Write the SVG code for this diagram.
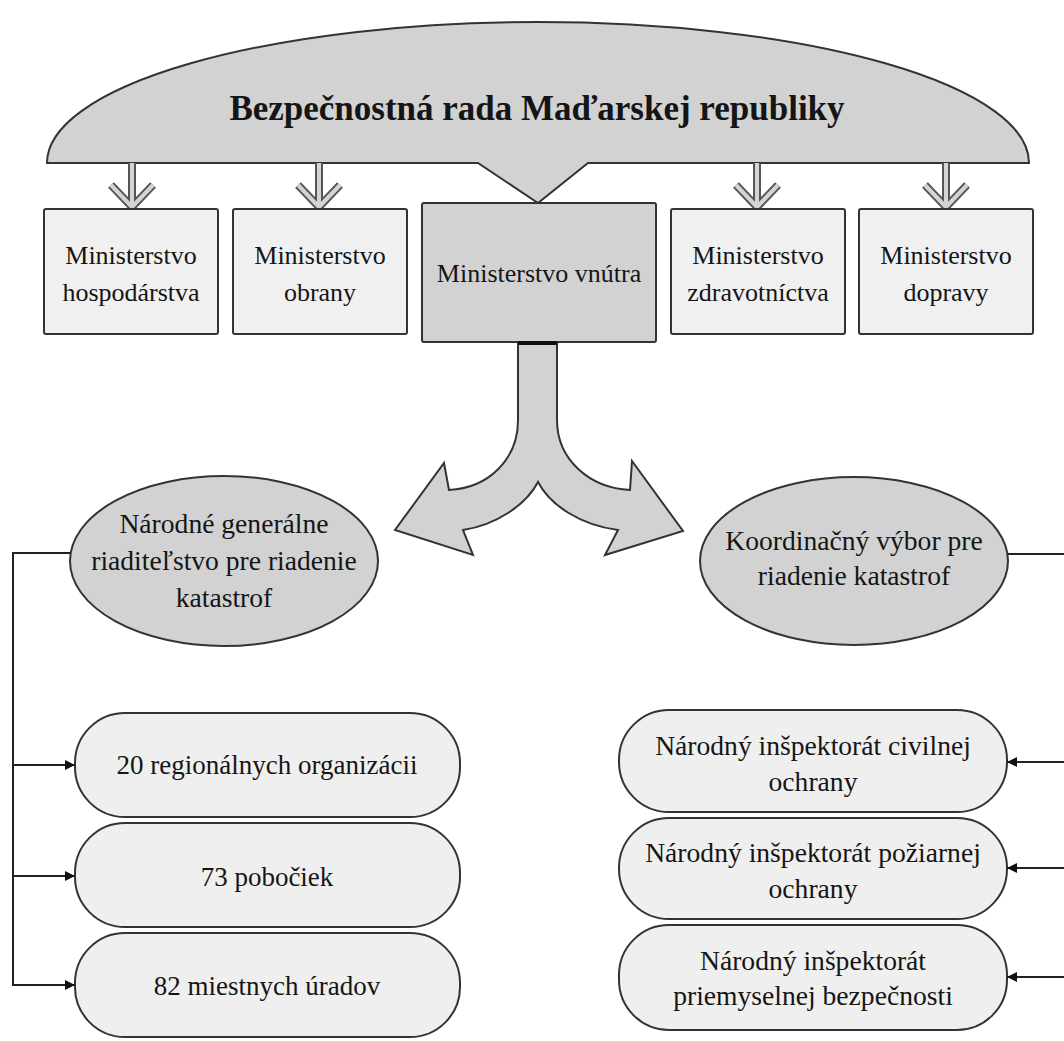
<svg xmlns="http://www.w3.org/2000/svg" width="1064" height="1041" viewBox="0 0 1064 1041">
<style>
text{font-family:'Liberation Serif','Times New Roman',serif;fill:#151515;text-anchor:middle;dominant-baseline:central}
.t{font-size:26px}
.b{font-size:27px}
.c{font-size:27.6px}
.title{font-size:35px;font-weight:bold}
.dark{fill:#d2d2d2;stroke:#333;stroke-width:2}
.light{fill:#f0f0f0;stroke:#333;stroke-width:2}
.pill{fill:#efefef;stroke:#333;stroke-width:2}
.conn{fill:none;stroke:#222;stroke-width:2}
.dblo{fill:none;stroke:#555;stroke-width:8;stroke-linejoin:miter}
.dbli{fill:none;stroke:#d4d4d4;stroke-width:4;stroke-linejoin:miter}
</style>
<defs>
<marker id="ah" viewBox="0 0 10 10" refX="10" refY="5" markerWidth="5" markerHeight="5" orient="auto" markerUnits="strokeWidth">
<path d="M0,0 L10,5 L0,10 Z" fill="#111"/>
</marker>
<path id="da" d="M0,0 V44 M-21,22 L0,44 L21,22"/>
</defs>

<g id="council">
<path class="dark" d="M47,163 A491,141 0 0 1 1029,163 L588,163 L538,203 L478,163 Z"/>
<text class="title" x="537" y="108">Bezpečnostná rada Maďarskej republiky</text>
</g>

<g id="council-arrows">
<g transform="translate(132,163)"><use href="#da" class="dblo"/><use href="#da" class="dbli"/></g>
<g transform="translate(319,163)"><use href="#da" class="dblo"/><use href="#da" class="dbli"/></g>
<g transform="translate(757,163)"><use href="#da" class="dblo"/><use href="#da" class="dbli"/></g>
<g transform="translate(946,163)"><use href="#da" class="dblo"/><use href="#da" class="dbli"/></g>
</g>

<g id="min-hosp">
<rect class="light" x="44" y="209" width="174" height="125" rx="2"/>
<text class="t" x="131" y="255">Ministerstvo</text>
<text class="t" x="131" y="292">hospodárstva</text>
</g>
<g id="min-obrany">
<rect class="light" x="233" y="209" width="174" height="125" rx="2"/>
<text class="t" x="320" y="255">Ministerstvo</text>
<text class="t" x="320" y="292">obrany</text>
</g>
<g id="min-vnutra">
<rect class="dark" x="422" y="203" width="234" height="139" rx="2"/>
<text class="t" x="539" y="273">Ministerstvo vnútra</text>
</g>
<g id="min-zdrav">
<rect class="light" x="671" y="209" width="174" height="125" rx="2"/>
<text class="t" x="758" y="255">Ministerstvo</text>
<text class="t" x="758" y="292">zdravotníctva</text>
</g>
<g id="min-doprava">
<rect class="light" x="859" y="209" width="174" height="125" rx="2"/>
<text class="t" x="946" y="255">Ministerstvo</text>
<text class="t" x="946" y="292">dopravy</text>
</g>

<g id="split-arrow">
<path class="dark" d="M518,343 L557,343 L557,420 C557,460 590,488 630,490 L632,461 L683,531 L605,555 L618,530 C580,525 550,505 538,482 C526,505 496,525 463,530 L473,555 L395,530 L444,463 L449,490 C488,488 518,460 518,420 Z"/>
<line x1="518" y1="343" x2="557" y2="343" stroke="#111" stroke-width="4"/>
</g>

<g id="ngr">
<ellipse class="dark" cx="224" cy="561" rx="154" ry="85"/>
<text class="c" x="224" y="523">Národné generálne</text>
<text class="c" x="224" y="560">riaditeľstvo pre riadenie</text>
<text class="c" x="224" y="597">katastrof</text>
</g>
<g id="kv">
<ellipse class="dark" cx="854" cy="561" rx="154" ry="84"/>
<text class="c" x="854" y="540">Koordinačný výbor pre</text>
<text class="c" x="854" y="575">riadenie katastrof</text>
</g>

<g id="reg">
<rect class="pill" x="75" y="713" width="385" height="104" rx="50"/>
<text class="b" x="267" y="765">20 regionálnych organizácii</text>
</g>
<g id="pob">
<rect class="pill" x="75" y="823" width="385" height="104" rx="50"/>
<text class="b" x="267" y="877">73 pobočiek</text>
</g>
<g id="mu">
<rect class="pill" x="75" y="933" width="385" height="104" rx="50"/>
<text class="b" x="267" y="986">82 miestnych úradov</text>
</g>

<g id="civ">
<rect class="pill" x="619" y="710" width="388" height="102" rx="50"/>
<text class="c" x="813" y="745">Národný inšpektorát civilnej</text>
<text class="c" x="813" y="781">ochrany</text>
</g>
<g id="poz">
<rect class="pill" x="619" y="818" width="388" height="101" rx="50"/>
<text class="c" x="813" y="852">Národný inšpektorát požiarnej</text>
<text class="c" x="813" y="888">ochrany</text>
</g>
<g id="prb">
<rect class="pill" x="619" y="925" width="388" height="105" rx="50"/>
<text class="c" x="813" y="960">Národný inšpektorát</text>
<text class="c" x="813" y="995">priemyselnej bezpečnosti</text>
</g>

<g id="connectors">
<polyline class="conn" points="71,553 13,553 13,986"/>
<line class="conn" x1="13" y1="765" x2="75" y2="765" marker-end="url(#ah)"/>
<line class="conn" x1="13" y1="876" x2="75" y2="876" marker-end="url(#ah)"/>
<line class="conn" x1="13" y1="985" x2="75" y2="985" marker-end="url(#ah)"/>
<line class="conn" x1="1008" y1="554" x2="1064" y2="554"/>
<line class="conn" x1="1064" y1="762" x2="1007" y2="762" marker-end="url(#ah)"/>
<line class="conn" x1="1064" y1="868" x2="1007" y2="868" marker-end="url(#ah)"/>
<line class="conn" x1="1064" y1="977" x2="1007" y2="977" marker-end="url(#ah)"/>
</g>
</svg>
